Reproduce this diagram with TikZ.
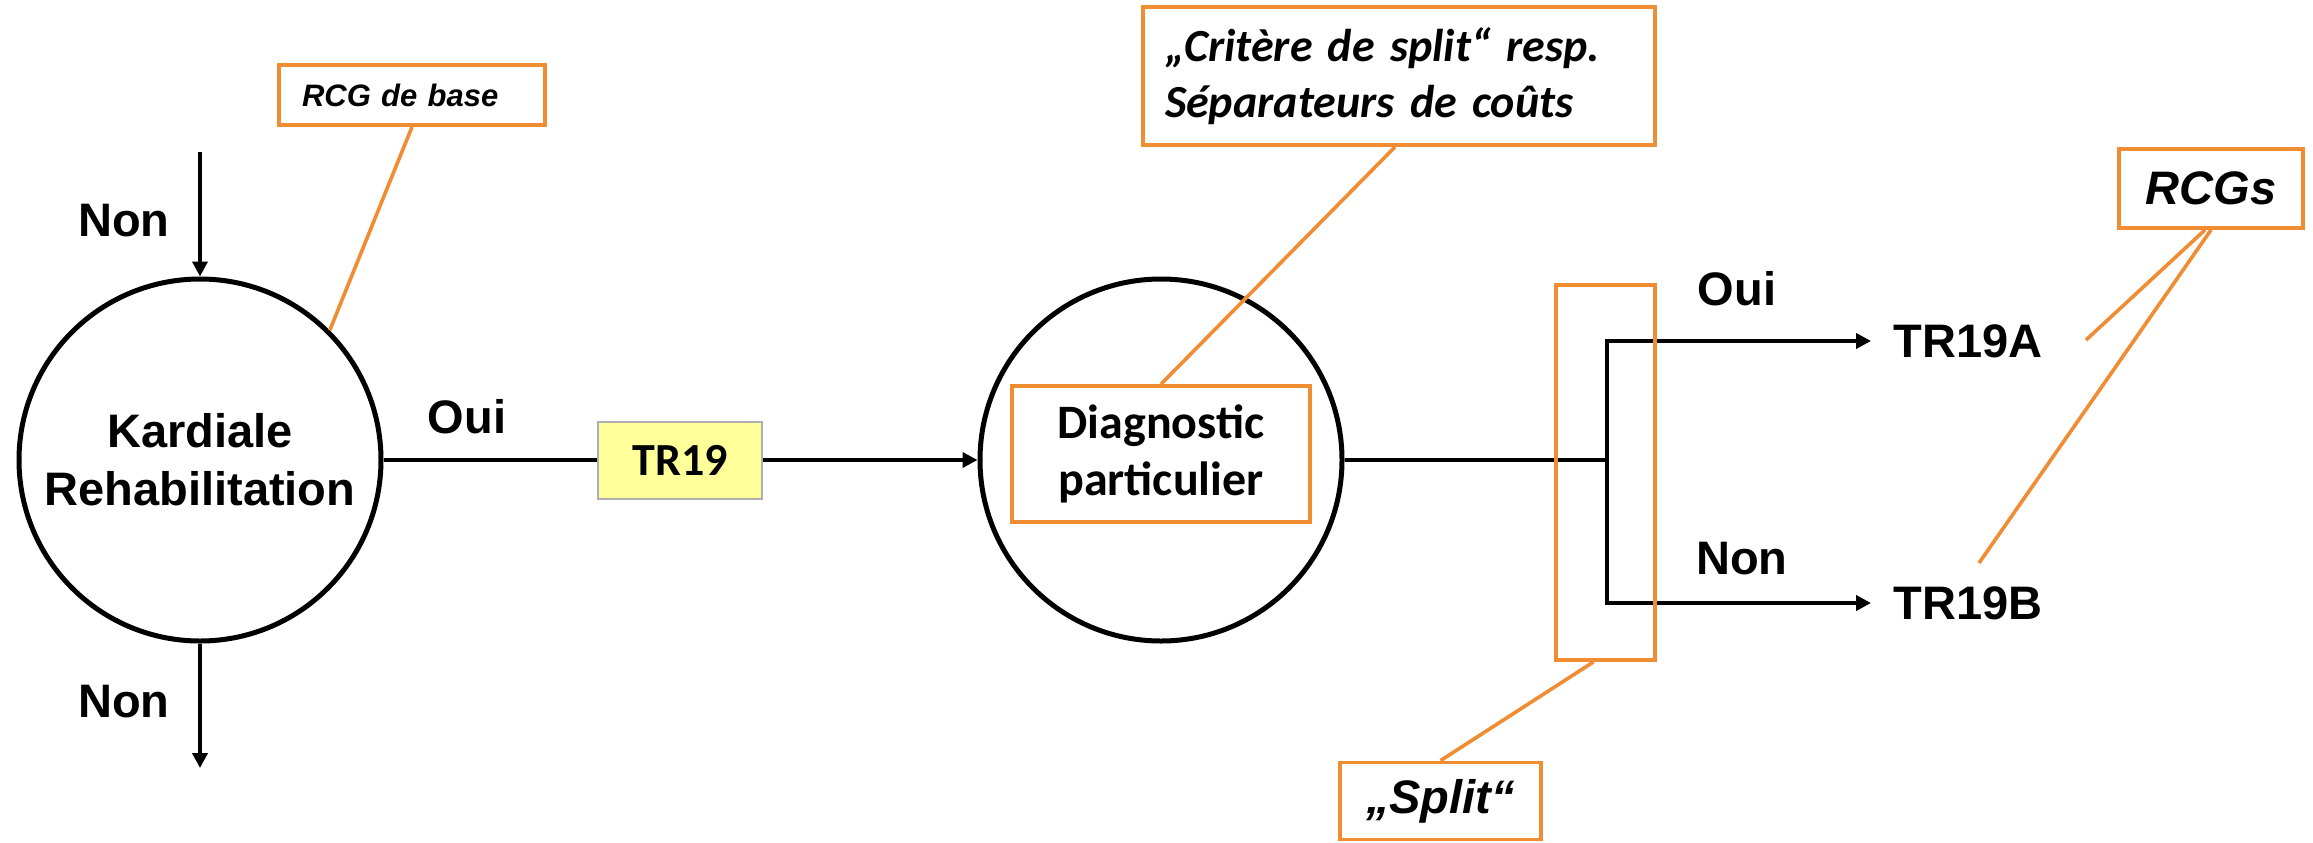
\documentclass[tikz,border=0pt]{standalone}
\usepackage{fontspec}
\setmainfont{Liberation Sans}
\newfontfamily\calib{Carlito}
\usetikzlibrary{arrows.meta}
\definecolor{orng}{RGB}{240,140,50}
\definecolor{yel}{RGB}{255,255,153}
\definecolor{gborder}{RGB}{175,175,175}
\tikzset{
  blk/.style={line width=2pt},
  arr/.style={blk, -{Triangle[length=7.5pt,width=7.5pt]}},
  lbl/.style={font=\fontsize{23.5}{28}\selectfont\bfseries, inner sep=0pt},
  circ/.style={circle, draw, line width=2.5pt, minimum size=181pt, inner sep=0pt, align=center},
  orbox/.style={draw=orng, line width=1.9pt, inner sep=0pt},
  lead/.style={draw=orng, line width=1.8pt},
}
\begin{document}
\begin{tikzpicture}[x=0.5pt,y=-0.5pt]
\useasboundingbox (0,0) rectangle (2313,842);
% circles
\node[circ, font=\fontsize{23.5}{29}\selectfont\bfseries] (c1) at (200,460) {Kardiale\\Rehabilitation};
\node[circ] (c2) at (1161,460) {};
% boxes
\node[draw=gborder, fill=yel, line width=1pt, minimum width=82pt, minimum height=38.5pt, inner sep=0pt,
      font=\calib\fontsize{23}{28}\selectfont\bfseries] (tr19) at (680,460) {TR19};
\node[orbox, minimum width=149pt, minimum height=68pt, align=center,
      font=\calib\fontsize{24}{28.5}\selectfont\bfseries] (diag) at (1161,454) {Diagnostic\\particulier};
\node[orbox, minimum width=256pt, minimum height=69pt, align=left, text width=234pt, inner xsep=11pt,
      font=\calib\fontsize{23}{28}\selectfont\bfseries\itshape] (crit) at (1399,76) {„Critère de split“ resp.\\Séparateurs de coûts};
\node[orbox, minimum width=133pt, minimum height=30pt, align=left, text width=110pt, inner xsep=11.5pt,
      font=\fontsize{15.5}{18}\selectfont\bfseries\itshape] (rcg) at (412,95) {RCG de base};
\node[orbox, minimum width=92pt, minimum height=39.5pt,
      font=\fontsize{23.5}{28}\selectfont\bfseries\itshape] (rcgs) at (2211,188.5) {RCGs};
\node[orbox, minimum width=100.5pt, minimum height=38.5pt,
      font=\fontsize{23.5}{28}\selectfont\bfseries\itshape] (splitlbl) at (1440.5,801) {„Split“};
% labels
\node[lbl] (nontop) at (124,221) {Non};
\node[lbl] (nonbot) at (124,702) {Non};
\node[lbl] (ouil) at (467,417) {Oui};
\node[lbl] (ouir) at (1737,289) {Oui};
\node[lbl] (nonr) at (1742,559) {Non};
\node[lbl, anchor=west, inner xsep=11pt] (tra) at (1871,341) {TR19A};
\node[lbl, anchor=west, inner xsep=11pt] (trb) at (1871,603) {TR19B};
% coordinates
\coordinate (topstart) at (200,152);
\coordinate (botend) at (200,768);
\coordinate (br) at (1607,460);
\coordinate (leadA) at (2086,340);
\coordinate (leadB) at (1979,563);
% black connectors
\draw[arr] (topstart) -- (c1.north);
\draw[arr] (c1.south) -- (botend);
\draw[blk] (c1.east) -- (tr19.west);
\draw[arr] (tr19.east) -- (c2.west);
\draw[blk] (c2.east) -- (br);
\draw[arr] (br) |- (tra.west);
\draw[arr] (br) |- (trb.west);
% split box (orange, over the lines)
\node[orbox, minimum width=49.5pt, minimum height=187.5pt] (split) at (1605.5,472.5) {};
% orange leaders
\draw[lead] (rcg.south) -- (c1.45);
\draw[lead] ([xshift=-2pt]crit.south) -- (diag.north);
\draw[lead] ([xshift=-3pt]rcgs.south) -- (leadA);
\draw[lead] (rcgs.south) -- (leadB);
\draw[lead] ([xshift=-6pt]split.south) -- (splitlbl.north);
\end{tikzpicture}
\end{document}
